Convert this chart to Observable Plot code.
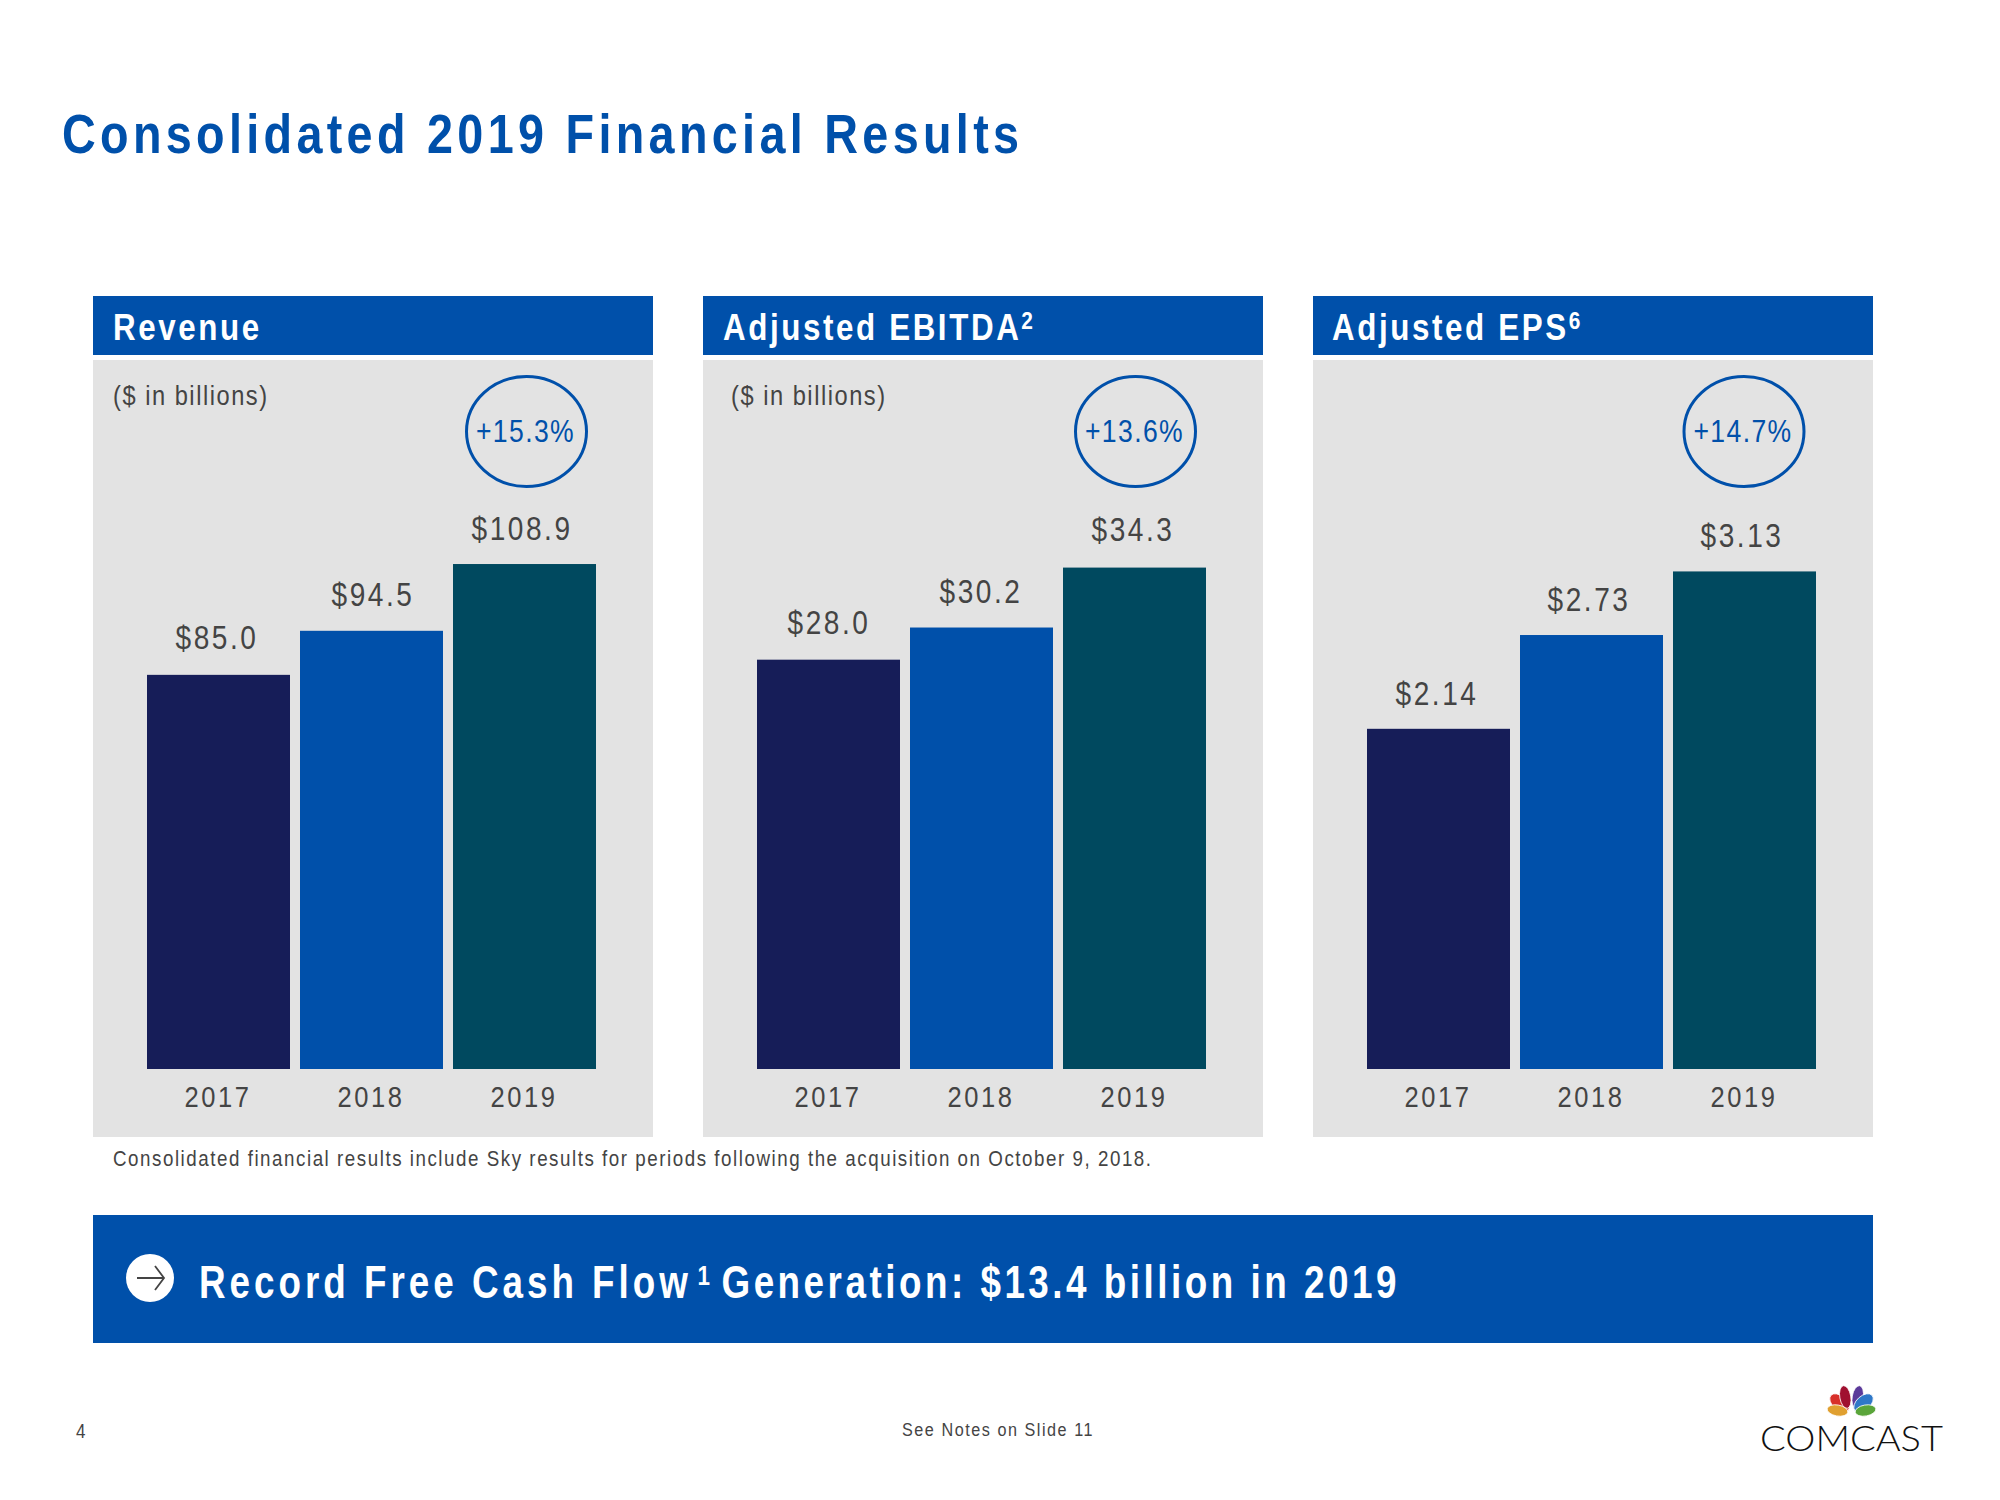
<!DOCTYPE html>
<html><head><meta charset="utf-8">
<script src="https://cdn.jsdelivr.net/npm/d3@7"></script>
<script src="https://cdn.jsdelivr.net/npm/@observablehq/plot@0.6"></script>
<style>
html,body{margin:0;padding:0;background:#fff;}
#page{position:relative;width:2000px;height:1500px;overflow:hidden;}
#page svg{position:absolute;}
</style></head>
<body><div id="page"></div>
<script>
const years = ["2017","2018","2019"];
const revenue = [85.0,94.5,108.9];
const ebitda = [28.0,30.2,34.3];
const eps = [2.14,2.73,3.13];
const revenueLabels = ["$85.0","$94.5","$108.9"];
const ebitdaLabels = ["$28.0","$30.2","$34.3"];
const epsLabels = ["$2.14","$2.73","$3.13"];
const barColors = ["#161d58","#0050aa","#00495f"];
const panelTitles = ["Revenue","Adjusted EBITDA","Adjusted EPS"];
const panelNotes = ["2","6"];
const growth = ["+15.3%","+13.6%","+14.7%"];
const panelLeft = [93,703,1313];
const titleInset = [20,20,19];
const circleOffset = [433.5,432.5,431];
const yMax = [152.9,48.5,4.46];
const labelNudge = [[[0,-1],[3,0],[-1,0]],[[2,-1],[1,0],[0,-2]],[[0,1],[-1,0],[-1,0]]];

const BLUE="#0050aa", TEXT="#444", GREY="#e3e3e3";
const FONT="'Liberation Sans',Arial,sans-serif";
const page=document.getElementById("page");

[[revenue,revenueLabels],[ebitda,ebitdaLabels],[eps,epsLabels]].forEach(([vals,labs],i)=>{
  const rows=years.map((y,k)=>({year:y,value:vals[k],label:labs[k]}));
  const p=Plot.plot({
    width:560,height:777,marginTop:0,marginBottom:68,marginLeft:54,marginRight:57,
    style:{background:GREY,fontFamily:FONT,letterSpacing:"3px",overflow:"visible"},
    x:{type:"band",domain:years,paddingInner:0.0654,paddingOuter:0,round:false,label:null},
    y:{domain:[0,yMax[i]],axis:null,label:null},
    color:{domain:years,range:barColors},
    marks:[
      Plot.barY(rows,{x:"year",y:"value",fill:"year"}),
      ...rows.map((r,k)=>Plot.text([r],{x:"year",y:"value",text:"label",dy:-25+labelNudge[i][k][1],dx:-2+labelNudge[i][k][0],lineAnchor:"bottom",fontSize:33,fill:TEXT})),
      Plot.axisX({anchor:"bottom",tickSize:0,tickPadding:16.5,fontSize:30,fill:TEXT,label:null,dx:-1,lineAnchor:"top"})
    ]
  });
  p.querySelectorAll("text").forEach(el=>el.setAttribute("transform",(el.getAttribute("transform")||"")+" scale(0.85,1)"));
  p.style.left=panelLeft[i]+"px";
  p.style.top="360px";
  page.appendChild(p);
});

const o=d3.select(page).append("svg").attr("width",2000).attr("height",1500)
  .style("left","0").style("top","0").style("font-family",FONT);
function t(str,x,y,size,ls,fill,weight,anchor,s){
  return o.append("text").attr("transform",`translate(${x},${y}) scale(${s||0.85},1)`).attr("font-size",size)
    .attr("letter-spacing",ls).attr("fill",fill).attr("font-weight",weight||"normal")
    .attr("text-anchor",anchor||"start").text(str);
}
t("Consolidated 2019 Financial Results",62,153,56,5.2,BLUE,"bold","start",0.834);

panelLeft.forEach((x,i)=>{
  o.append("rect").attr("x",x).attr("y",296).attr("width",560).attr("height",59).attr("fill",BLUE);
  const h=t(panelTitles[i],x+titleInset[i],340,36,3,"#fff","bold","start",0.87);
  if(i>0) h.append("tspan").attr("font-size",24).attr("dy",-11).text(panelNotes[i-1]);
  const cx=x+circleOffset[i];
  o.append("ellipse").attr("cx",cx).attr("cy",431.5).attr("rx",60).attr("ry",55)
    .attr("fill","none").attr("stroke",BLUE).attr("stroke-width",3);
  t(growth[i],cx-1,442,31,1.6,BLUE,"normal","middle",0.857);
});
t("($ in billions)",113,405,28,1.8,TEXT,"normal","start",0.845);
t("($ in billions)",731,405,28,1.8,TEXT,"normal","start",0.845);
t("Consolidated financial results include Sky results for periods following the acquisition on October 9, 2018.",113,1166,22,1.8,TEXT,"normal","start",0.853);

o.append("rect").attr("x",93).attr("y",1215).attr("width",1780).attr("height",128).attr("fill",BLUE);
o.append("circle").attr("cx",150).attr("cy",1278).attr("r",24).attr("fill","#fff");
o.append("path").attr("d","M137 1278H164M155 1266L164 1278L155 1290").attr("fill","none").attr("stroke",TEXT).attr("stroke-width",1.8);
const b=t("Record Free Cash Flow",199,1298,46,5,"#fff","bold","start",0.8);
b.append("tspan").attr("font-size",28).attr("dy",-13).attr("dx",7).text("1");
b.append("tspan").attr("dy",13).attr("dx",9.5).attr("letter-spacing",4.4).text("Generation: $13.4 billion in 2019");

t("4",76,1438,20,1,TEXT);
t("See Notes on Slide 11",902,1436,19,1.8,TEXT,"normal","start",0.852);

const feathers=[["#d8302a",1839.5,1403,-48,7,11.5],["#a01030",1845.3,1397,-10,5.5,11.5],
                ["#5b3a9a",1857.7,1397,10,5.5,11.5],["#2f78c8",1863.5,1403,48,7,11.5],
                ["#e0a030",1837.5,1410.5,-80,5.5,10.5],["#5aa53a",1865.5,1410.5,80,5.5,10.5]];
feathers.forEach(([c,x,y,a,rx,ry])=>{
  o.append("ellipse").attr("cx",x).attr("cy",y).attr("rx",rx).attr("ry",ry)
   .attr("fill",c).attr("stroke","#fff").attr("stroke-width",0.8).attr("transform",`rotate(${a} ${x} ${y})`);
});
o.append("text").attr("x",1760).attr("y",1451).attr("font-size",36).attr("fill","#111")
 .style("font-family","Lato,sans-serif").style("font-weight",300)
 .attr("textLength",183).attr("lengthAdjust","spacingAndGlyphs").text("COMCAST");
</script></body></html>
